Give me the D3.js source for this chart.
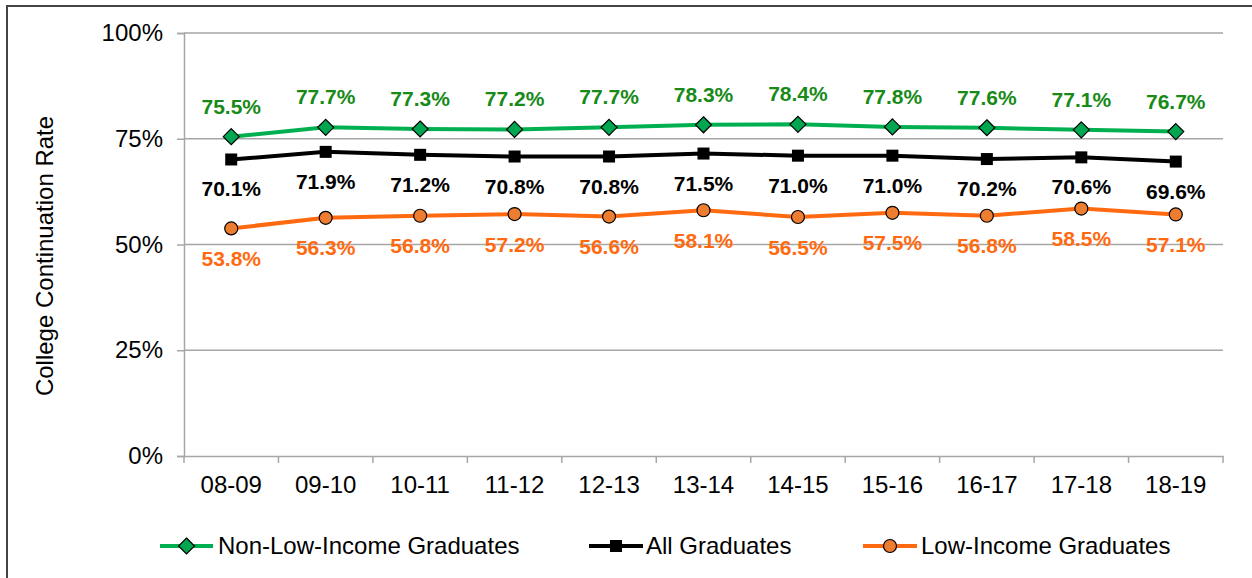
<!DOCTYPE html>
<html><head><meta charset="utf-8">
<script src="https://cdn.jsdelivr.net/npm/d3@7/dist/d3.min.js"></script>
<style>body{margin:0;background:#fff;}svg{display:block;font-family:"Liberation Sans",Arial,sans-serif;}</style>
</head><body><svg id="c" width="1252" height="578"></svg>
<script>
const categories = ["08-09","09-10","10-11","11-12","12-13","13-14","14-15","15-16","16-17","17-18","18-19"];
const nonLowIncome = [75.5,77.7,77.3,77.2,77.7,78.3,78.4,77.8,77.6,77.1,76.7];
const allGrads = [70.1,71.9,71.2,70.8,70.8,71.5,71.0,71.0,70.2,70.6,69.6];
const lowIncome = [53.8,56.3,56.8,57.2,56.6,58.1,56.5,57.5,56.8,58.5,57.1];
const yTicks = [0,25,50,75,100];
const seriesNames = ["Non-Low-Income Graduates","All Graduates","Low-Income Graduates"];

const svg = d3.select("#c");
// outer frame
svg.append("rect").attr("x",7).attr("y",6).attr("width",1260).attr("height",600)
  .attr("fill","none").attr("stroke","#444").attr("stroke-width",2);

const x = d3.scaleBand().domain(categories).range([184,1223]);
const y = d3.scaleLinear().domain([0,100]).range([456,33]);
const cx = d => x(d) + x.bandwidth()/2;

// gridlines
svg.append("g").selectAll("line").data(yTicks.filter(t=>t>0)).join("line")
  .attr("x1",184).attr("x2",1223).attr("y1",d=>y(d)).attr("y2",d=>y(d))
  .attr("stroke","#A6A6A6").attr("stroke-width",1.5);

// y axis
const yAx = svg.append("g").attr("transform","translate(184,0)")
  .call(d3.axisLeft(y).tickValues(yTicks).tickFormat(d=>d+"%").tickSize(7).tickPadding(14));
yAx.select(".domain").attr("stroke","#A6A6A6").attr("stroke-width",1.5);
yAx.selectAll(".tick line").attr("stroke","#A6A6A6").attr("stroke-width",1.5);
yAx.selectAll("text").attr("font-size",24).attr("fill","#000").attr("font-family","Liberation Sans, Arial, sans-serif");

// x axis
const xAx = svg.append("g").attr("transform","translate(0,456)")
  .call(d3.axisBottom(x).tickSize(0).tickPadding(20));
xAx.select(".domain").attr("stroke","#A6A6A6").attr("stroke-width",1.5);
xAx.selectAll("text").attr("font-size",24).attr("fill","#000").attr("font-family","Liberation Sans, Arial, sans-serif");
// boundary ticks
const bounds = categories.map(c=>x(c)).concat([1223]);
svg.append("g").selectAll("line").data(bounds).join("line")
  .attr("x1",d=>d).attr("x2",d=>d).attr("y1",456).attr("y2",463)
  .attr("stroke","#A6A6A6").attr("stroke-width",1.5);

// y title
svg.append("text").attr("transform","translate(53,256) rotate(-90)")
  .attr("text-anchor","middle").attr("font-size",24).attr("fill","#000")
  .text("College Continuation Rate");

const series = [
  {name:seriesNames[0], vals:nonLowIncome, line:"#00B050", mfill:"#00A650", tfill:"#178A17", marker:"diamond", dy:-23},
  {name:seriesNames[1], vals:allGrads, line:"#000", mfill:"#000", tfill:"#000", marker:"square", dy:37},
  {name:seriesNames[2], vals:lowIncome, line:"#FF6A10", mfill:"#ED7D31", tfill:"#FF6A10", marker:"circle", dy:37.5}
];

function drawMarker(g, type, fill){
  if(type==="diamond"){
    g.append("path").attr("d","M0,-8L8,0L0,8L-8,0Z").attr("fill",fill).attr("stroke","#000").attr("stroke-width",1.2);
  } else if(type==="square"){
    g.append("rect").attr("x",-6).attr("y",-6).attr("width",12).attr("height",12).attr("fill",fill);
  } else {
    g.append("circle").attr("r",6.5).attr("fill",fill).attr("stroke","#000").attr("stroke-width",1.2);
  }
}

const line = d3.line();
series.forEach(s=>{
  const pts = s.vals.map((v,i)=>[cx(categories[i]), y(v)]);
  svg.append("path").attr("d",line(pts)).attr("fill","none").attr("stroke",s.line).attr("stroke-width",4);
});
series.forEach(s=>{
  s.vals.forEach((v,i)=>{
    const g = svg.append("g").attr("transform",`translate(${cx(categories[i])},${y(v)})`);
    drawMarker(g,s.marker,s.mfill);
  });
});
series.forEach(s=>{
  svg.append("g").selectAll("text").data(s.vals).join("text")
    .attr("x",(d,i)=>cx(categories[i])).attr("y",d=>y(d)+s.dy)
    .attr("text-anchor","middle").attr("font-size",21).attr("font-weight","bold")
    .attr("fill",s.tfill).text(d=>d.toFixed(1)+"%");
});

// legend
const leg = [
  {x1:160,x2:213,tx:218},
  {x1:589,x2:643,tx:646},
  {x1:863,x2:917,tx:921}
];
series.forEach((s,i)=>{
  const L = leg[i];
  svg.append("line").attr("x1",L.x1).attr("x2",L.x2).attr("y1",546).attr("y2",546)
    .attr("stroke",s.line).attr("stroke-width",4);
  const g = svg.append("g").attr("transform",`translate(${(L.x1+L.x2)/2},546)`);
  drawMarker(g,s.marker,s.mfill);
  svg.append("text").attr("x",L.tx).attr("y",554).attr("font-size",24).attr("fill","#000").text(s.name);
});
</script></body></html>
